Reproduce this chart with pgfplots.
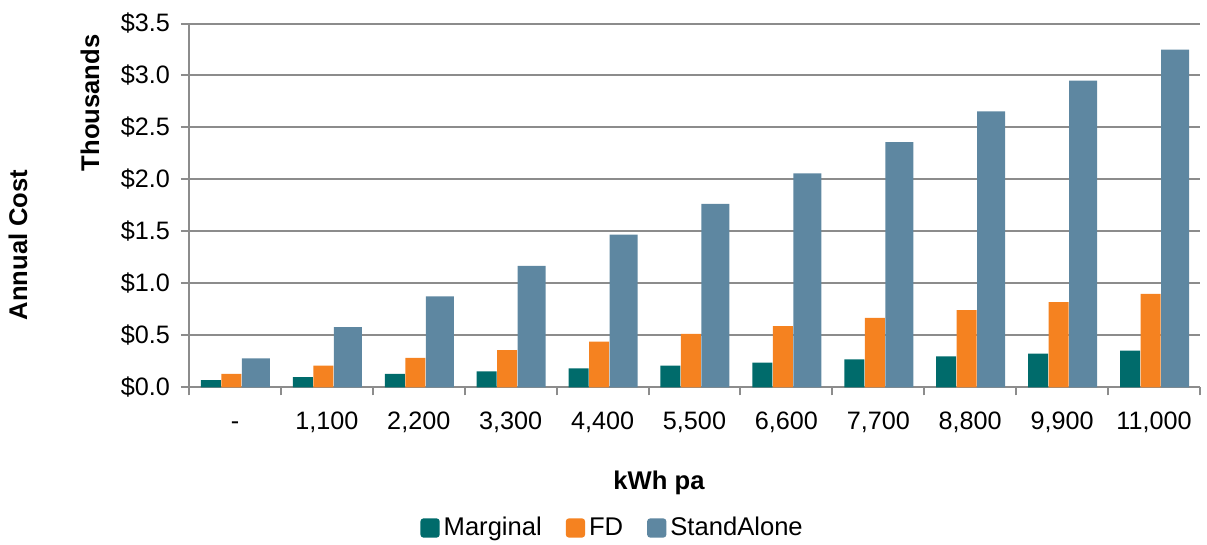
\documentclass[border=0pt]{standalone}
\usepackage{pgfplots}
\pgfplotsset{compat=1.18}
\usepackage{fontspec}
\setmainfont{Liberation Sans}
\definecolor{mteal}{HTML}{006B6B}
\definecolor{morange}{HTML}{F58220}
\definecolor{mblue}{HTML}{5E87A1}
\definecolor{mgrid}{HTML}{8C8C8C}
\begin{document}
\begin{tikzpicture}
\begin{axis}[
  scale only axis,
  width=505.5pt, height=182pt,
  xmin=-0.5, xmax=10.5,
  ymin=0, ymax=3.5,
  ytick={0,0.5,...,3.5},
  xtick={0,...,10},
  xticklabels={-,{1,100},{2,200},{3,300},{4,400},{5,500},{6,600},{7,700},{8,800},{9,900},{11,000}},
  minor xtick={-0.5,0.5,...,10.5},
  major x tick style={draw=none},
  minor tick length=4pt,
  major tick length=4pt,
  tick align=outside,
  xtick pos=bottom, ytick pos=left,
  tick style={mgrid, line width=1pt},
  ymajorgrids,
  grid style={mgrid, line width=1pt},
  axis line style={mgrid, line width=1pt},
  axis x line*=bottom,
  axis y line*=left,
  /pgf/number format/assume math mode=true,
  yticklabel={\$\pgfmathprintnumber[fixed,fixed zerofill,precision=1]{\tick}},
  ticklabel style={font=\fontsize{12.6}{14}\selectfont, text=black},
  xticklabel style={yshift=-4.5pt, text height=9pt, text depth=0pt},
  yticklabel style={xshift=-2pt},
  legend columns=3,
  legend style={draw=none, at={(axis description cs:0.42,-0.386)}, anchor=center,
    font=\fontsize{12.8}{14}\selectfont, /tikz/every even column/.append style={column sep=10pt}},
  legend image code/.code={\fill[#1, rounded corners=1.5pt] (0pt,-4.8pt) rectangle (9.6pt,4.8pt);},
]
\addplot[ybar, bar width=10pt, bar shift=-12pt, fill=mteal, draw=none] coordinates {
(0,0.07) (1,0.10) (2,0.13) (3,0.155) (4,0.185) (5,0.21) (6,0.24) (7,0.27) (8,0.30) (9,0.325) (10,0.355)};
\addplot[ybar, bar width=10pt, bar shift=-1.75pt, fill=morange, draw=none] coordinates {
(0,0.13) (1,0.21) (2,0.285) (3,0.36) (4,0.44) (5,0.515) (6,0.59) (7,0.67) (8,0.745) (9,0.82) (10,0.90)};
\addplot[ybar, bar width=14pt, bar shift=10.5pt, fill=mblue, draw=none] coordinates {
(0,0.28) (1,0.58) (2,0.875) (3,1.17) (4,1.47) (5,1.765) (6,2.06) (7,2.36) (8,2.655) (9,2.95) (10,3.25)};
\legend{Marginal,FD,StandAlone}
\end{axis}
\node[font=\fontsize{12.8}{14}\selectfont\bfseries] at (235pt,-47.75pt) {kWh pa};
\node[font=\fontsize{12.8}{14}\selectfont\bfseries, rotate=90] at (-49.5pt,142.25pt) {Thousands};
\node[font=\fontsize{12.8}{14}\selectfont\bfseries, rotate=90] at (-85.5pt,71.25pt) {Annual Cost};
\pgfresetboundingbox
\path (-94.5pt,-78.75pt) rectangle (509pt,193.75pt);
\end{tikzpicture}
\end{document}
